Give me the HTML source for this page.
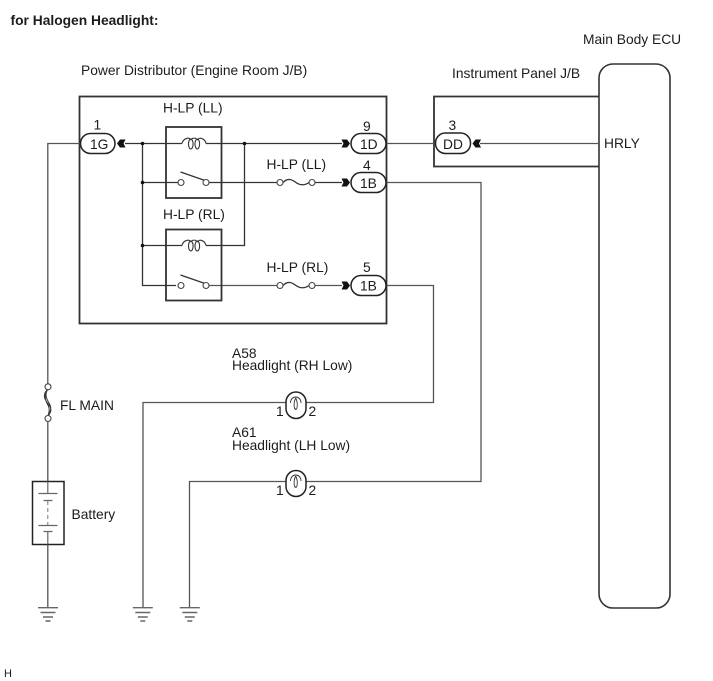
<!DOCTYPE html>
<html>
<head>
<meta charset="utf-8">
<style>
html,body{margin:0;padding:0;background:#fff;width:713px;height:681px;overflow:hidden}
svg{display:block}
text{font-family:"Liberation Sans",Arial,sans-serif;font-size:13.8px;fill:#1c1c1c}
.w{fill:none;stroke:#555;stroke-width:1.3}
.d{fill:none;stroke:#333;stroke-width:1.3}
.b{fill:none;stroke:#333;stroke-width:1.8}
.c{fill:#fff;stroke:#222;stroke-width:1.5}
.o{fill:#fff;stroke:#444;stroke-width:1.1}
.g{stroke:#666;stroke-width:1.4}
.k{fill:none;stroke:#333;stroke-width:1.1}
</style>
</head>
<body>
<svg width="713" height="681" viewBox="0 0 713 681" xmlns="http://www.w3.org/2000/svg">

<!-- boxes -->
<rect x="79.500" y="96.500" width="307" height="227" class="b"/>
<path d="M598.500 96.500H434V166.500H598.500" class="b"/>
<rect x="599" y="64" width="71" height="544" rx="14" ry="14" fill="#fff" stroke="#333" stroke-width="1.600"/>

<!-- wires -->
<path d="M80 143.500H47.800V386" class="w"/>
<path d="M47.800 419V607" class="w"/>
<path d="M125 143.500H182M206 143.500H342" class="d"/>
<path d="M142.500 143.500V285.500H176" class="d"/>
<path d="M142.500 182.500H178" class="d"/>
<path d="M209 182.500H277M315 182.500H342" class="d"/>
<path d="M142.500 245.500H182M206 245.500H244.500V143.500" class="d"/>
<path d="M209 285.500H277M315 285.500H342" class="w"/>
<path d="M386 143.500H435" class="w"/>
<path d="M480 143.500H599" class="w"/>
<path d="M386 182.500H481V481.500H306" class="w"/>
<path d="M386 285.500H433.500V402.500H306" class="w"/>
<path d="M286 402.500H143V607" class="w"/>
<path d="M286 481.500H189.500V607" class="w"/>

<!-- junction dots -->
<circle cx="142.500" cy="143.500" r="1.800" fill="#111"/>
<circle cx="142.500" cy="182.500" r="1.800" fill="#111"/>
<circle cx="142.500" cy="245.500" r="1.800" fill="#111"/>
<circle cx="244.500" cy="143.500" r="1.800" fill="#111"/>

<!-- relays -->
<rect x="166" y="127" width="55.500" height="71" class="b"/>
<rect x="166" y="229.500" width="55.500" height="71" class="b"/>
<g>
<path d="M182 143.500C183 138.500 189 136.500 191 140M191 140C192 137.500 196 137.500 197.500 140M197.500 140C199 136.500 205 138.500 206 143.500" class="k"/>
<ellipse cx="190.800" cy="144" rx="2.300" ry="5" class="k"/>
<ellipse cx="197.300" cy="144" rx="2.300" ry="5" class="k"/>
</g>
<g>
<path d="M182 245.500C183 240.500 189 238.500 191 242M191 242C192 239.500 196 239.500 197.500 242M197.500 242C199 238.500 205 240.500 206 245.500" class="k"/>
<ellipse cx="190.800" cy="246" rx="2.300" ry="5" class="k"/>
<ellipse cx="197.300" cy="246" rx="2.300" ry="5" class="k"/>
</g>
<line x1="180.500" y1="172" x2="205" y2="180.500" stroke="#333" stroke-width="1.300"/>
<circle cx="181" cy="182.500" r="3" class="o"/>
<circle cx="206" cy="182.500" r="3" class="o"/>
<line x1="180.500" y1="275" x2="205" y2="283.500" stroke="#333" stroke-width="1.300"/>
<circle cx="181" cy="285.500" r="3" class="o"/>
<circle cx="206" cy="285.500" r="3" class="o"/>

<!-- fuses -->
<path d="M283 182.500c5-5 9-3 13 0s9 3 13 0" class="d"/>
<circle cx="280" cy="182.500" r="3" class="o"/>
<circle cx="312" cy="182.500" r="3" class="o"/>
<path d="M283 285.500c5-5 9-3 13 0s9 3 13 0" class="d"/>
<circle cx="280" cy="285.500" r="3" class="o"/>
<circle cx="312" cy="285.500" r="3" class="o"/>

<!-- FL MAIN fuse -->
<path d="M47.800 389C43 394 43.500 398 47.500 403S52.500 411 47.800 416M47.800 389C45 394 45.500 397 49 403S50 412 47.800 416M47.800 389C46 392 44 396 46 401S51 408 47.800 416" fill="none" stroke="#333" stroke-width="1"/>
<circle cx="48" cy="386.800" r="3" class="o"/>
<circle cx="48" cy="418.500" r="3" class="o"/>

<!-- connectors -->
<rect x="80.500" y="133.500" width="34.500" height="20" rx="10" class="c"/>
<rect x="351" y="133.500" width="35" height="20" rx="10" class="c"/>
<rect x="351" y="172.500" width="35" height="20" rx="10" class="c"/>
<rect x="351" y="275.500" width="35" height="20" rx="10" class="c"/>
<rect x="435.500" y="133" width="35" height="20.500" rx="10" class="c"/>

<!-- arrowheads -->
<path d="M117 143.500L120 139.500H125.500L123.500 143.500L125.500 147.500H120Z" fill="#111"/>
<path d="M472.500 143.500L475.500 139.500H481L479 143.500L481 147.500H475.500Z" fill="#111"/>
<path d="M350 143.500L347 139.500H341.500L343.500 143.500L341.500 147.500H347Z" fill="#111"/>
<path d="M350 182.500L347 178.500H341.500L343.500 182.500L341.500 186.500H347Z" fill="#111"/>
<path d="M350 285.500L347 281.500H341.500L343.500 285.500L341.500 289.500H347Z" fill="#111"/>

<!-- lamps -->
<rect x="286" y="392" width="20" height="26.500" rx="10" fill="#fff" stroke="#222" stroke-width="1.500"/>
<path d="M290.500 403c0-8 10.500-8 10.500 0M295.700 398c-3 6-1 13 0 11c1 2 3-5 0-11" fill="none" stroke="#333" stroke-width=".9"/>
<rect x="286" y="470.500" width="20" height="26" rx="10" fill="#fff" stroke="#222" stroke-width="1.500"/>
<path d="M290.500 481c0-8 10.500-8 10.500 0M295.700 476c-3 6-1 13 0 11c1 2 3-5 0-11" fill="none" stroke="#333" stroke-width=".9"/>

<!-- battery -->
<rect x="32.500" y="481.500" width="31.500" height="63" fill="#fff" stroke="#222" stroke-width="1.500"/>
<path d="M47.800 481.500V493M47.800 532V544.500" stroke="#666" stroke-width="1.200"/>
<path d="M38.500 493.500H57.500M43.500 500.500H52.500M38.500 525.500H57.500M43.500 531.500H52.500" stroke="#666" stroke-width="1.200"/>
<path d="M47.800 501V525" stroke="#777" stroke-width="1" stroke-dasharray="4 3"/>

<!-- grounds -->
<path d="M38 607.700H58M40.500 612.500H55.500M43 617H53M45.500 621H50.500" class="g"/>
<path d="M132.800 607.700H152.800M135.300 612.500H150.300M137.800 617H147.800M140.300 621H145.300" class="g"/>
<path d="M179.800 607.700H199.800M182.300 612.500H197.300M184.800 617H194.800M187.300 621H192.300" class="g"/>

<!-- text -->
<text x="10.500" y="25" style="font-weight:bold">for Halogen Headlight:</text>
<text x="81" y="75">Power Distributor (Engine Room J/B)</text>
<text x="452" y="78">Instrument Panel J/B</text>
<text x="583" y="44">Main Body ECU</text>
<text x="163" y="112.500">H-LP (LL)</text>
<text x="163" y="219">H-LP (RL)</text>
<text x="266.500" y="169">H-LP (LL)</text>
<text x="266.500" y="272">H-LP (RL)</text>
<text x="93.500" y="129.500">1</text>
<text x="90" y="149">1G</text>
<text x="363" y="131">9</text>
<text x="360" y="149">1D</text>
<text x="363" y="170">4</text>
<text x="360" y="188">1B</text>
<text x="363" y="272">5</text>
<text x="360" y="290.500">1B</text>
<text x="448.500" y="130">3</text>
<text x="443" y="149">DD</text>
<text x="604" y="148">HRLY</text>
<text x="232" y="358">A58</text>
<text x="232" y="370">Headlight (RH Low)</text>
<text x="232" y="437">A61</text>
<text x="232" y="450">Headlight (LH Low)</text>
<text x="276" y="416">1</text>
<text x="308.500" y="416">2</text>
<text x="276" y="495">1</text>
<text x="308.500" y="495">2</text>
<text x="60" y="410">FL MAIN</text>
<text x="71.500" y="519">Battery</text>
<text x="4" y="677" style="font-size:11px">H</text>
</svg>
</body>
</html>
